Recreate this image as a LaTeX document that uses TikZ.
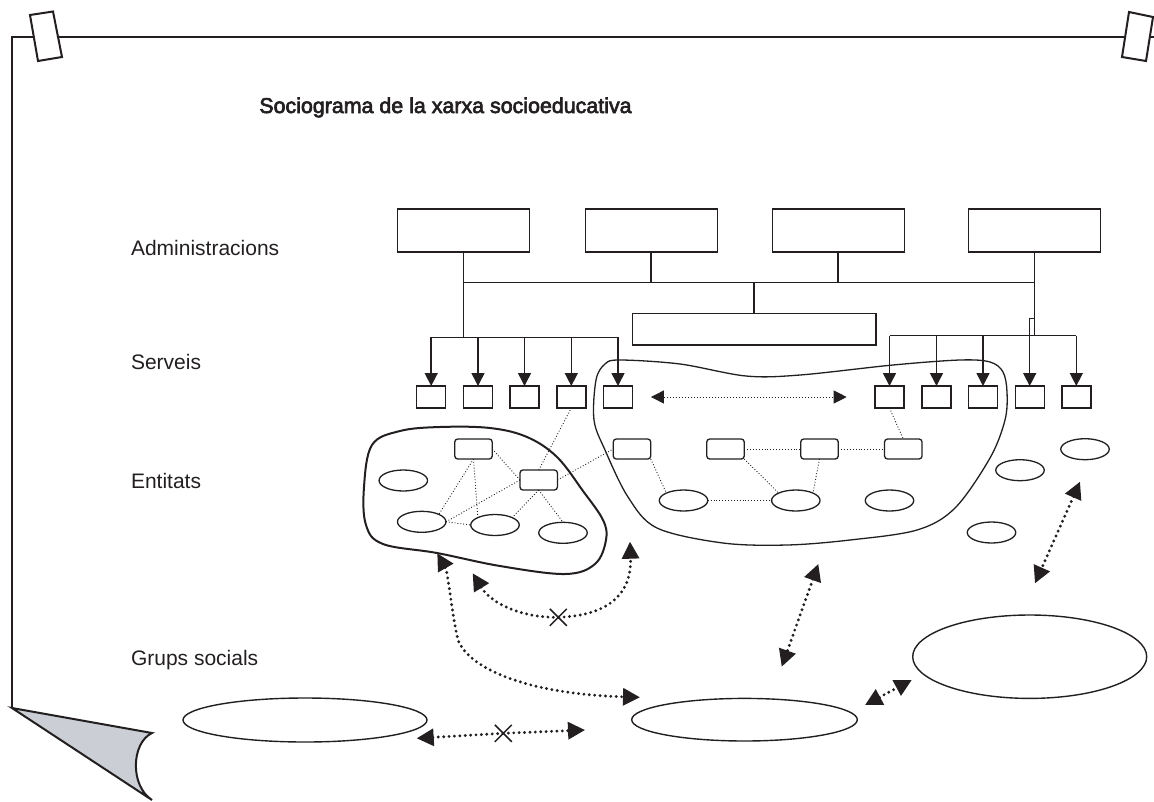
\documentclass[tikz,border=0pt]{standalone}
\usepackage{fontspec}
\setmainfont{Liberation Sans}
\newfontfamily\titlefont[FakeBold=3]{Liberation Sans}
\usetikzlibrary{arrows.meta,shapes.geometric,shapes.misc}
\definecolor{ink}{RGB}{35,31,32}
\definecolor{curlgray}{RGB}{203,206,213}
\begin{document}
\begin{tikzpicture}[x=1pt,y=-1pt,color=ink,
  every node/.style={inner sep=0pt,outer sep=0pt},
  adminbox/.style={draw,line width=1.4pt,minimum width=132pt,minimum height=43pt},
  svcbox/.style={draw,line width=1.4pt,minimum width=29pt,minimum height=22pt},
  entbox/.style={draw,line width=1.3pt,rounded corners=3pt,minimum width=37.5pt,minimum height=20pt},
  entell/.style={draw,ellipse,line width=1.3pt,minimum width=48.5pt,minimum height=21pt},
  grpell/.style={draw,ellipse,line width=1.4pt},
  treeline/.style={line width=1.5pt},
  svcarrow/.style={line width=1.5pt,-{Triangle[length=13pt,width=13pt]}},
  rel/.style={line width=0.9pt,dotted},
  bigarrow/.style={line width=3.2pt,line cap=round,dash pattern=on 0pt off 5.4pt,
    {Triangle[length=17pt,width=17pt]}-{Triangle[length=17pt,width=17pt]}},
  nolink/.style={draw,cross out,line width=1.5pt,minimum size=17pt},
  rowlabel/.style={anchor=base west,font=\fontsize{21}{25}\selectfont},
  tape/.style={draw,fill=white,line width=2pt,line join=miter}
]
\useasboundingbox (0,0) rectangle (1154,801);

% sheet of paper with its curled corner
\draw[line width=2pt,line join=miter] (1154,37) -- (12,37) -- (12,708);
\draw[line width=2pt,line join=miter,fill=curlgray]
  (12,708) -- (152,733) .. controls (131,743) and (130,786) .. (152,800) -- cycle;
\draw[tape] (30,15) -- (53,11.5) -- (62,57) -- (38,61) -- cycle;
\draw[tape] (1129,12) -- (1153,17) -- (1146,61) -- (1122,57) -- cycle;

% title and row labels
\node[anchor=base,font=\titlefont\fontsize{21.4}{25}\selectfont] (title) at (445.5,113)
  {Sociograma de la xarxa socioeducativa};
\node[rowlabel] (ladm) at (131,255) {Administracions};
\node[rowlabel] (lsrv) at (131,369) {Serveis};
\node[rowlabel] (lent) at (131,488) {Entitats};
\node[rowlabel] (lgrp) at (131,665) {Grups socials};

% administrations
\node[adminbox] (a1) at (463.7,230.5) {};
\node[adminbox] (a2) at (651.2,230.5) {};
\node[adminbox] (a3) at (838.2,230.5) {};
\node[adminbox] (a4) at (1034.5,230.5) {};
\node[draw,line width=1.4pt,minimum width=243.7pt,minimum height=31.7pt] (ctr) at (754.2,329.2) {};

% services
\foreach \i/\x in {1/431.2,2/478,3/524.5,4/571.3,5/618,6/889.5,7/936.5,8/983,9/1029.7,10/1076.3}
  \node[svcbox] (s\i) at (\x,397) {};

% tree of links
\coordinate (hbar) at (0,282.3);
\coordinate (lbar) at (0,337.3);
\coordinate (rbar) at (0,335.7);
\coordinate (notch) at (0,318.3);
\draw[treeline] (a1.south) -- (a1.south |- lbar);
\draw[treeline] (a1.south |- hbar) -- (a4.south |- hbar);
\draw[treeline] (a2.south) -- (a2.south |- hbar);
\draw[treeline] (a3.south) -- (a3.south |- hbar);
\draw[treeline] (a4.south) -- (a4.south |- rbar);
\draw[treeline] (ctr.north |- hbar) -- (ctr.north);
\draw[treeline] (s1.north |- lbar) -- (s5.north |- lbar);
\draw[treeline] (s6.north |- rbar) -- (s10.north |- rbar);
\foreach \i in {1,...,5} \draw[svcarrow] (s\i.north |- lbar) -- (s\i.north);
\foreach \i in {6,7,8,10} \draw[svcarrow] (s\i.north |- rbar) -- (s\i.north);
\draw[svcarrow] (a4.south |- notch) -| (s9.north);

\draw[line width=1pt,dotted,{Triangle[length=13pt,width=13pt]}-{Triangle[length=13pt,width=13pt]}]
  ([xshift=18.4pt]s5.east) -- ([xshift=-28.3pt]s6.west);

% groups of entities
\draw[line width=2pt] plot[smooth cycle,tension=0.6] coordinates {
  (364,487) (372,445) (400,431) (440,427) (490,428) (527,437) (557,457) (583,491)
  (603,520) (606,540) (595,564) (565,574) (500,566) (437,553) (383,544) (366,525)};
\draw[line width=1.3pt] plot[smooth cycle,tension=0.55] coordinates {
  (594,420) (596,380) (605,364) (620,360) (680,364) (746,376) (800,375) (893,365)
  (960,360) (990,362) (1003,372) (1007,392) (1005,420) (990,458) (955,508) (917,530)
  (850,540) (787,545) (723,543) (657,528) (628,497) (605,450)};

% entities
\node[entbox] (e1) at (473.5,449) {};
\node[entbox] (e2) at (538.7,480) {};
\node[entbox] (e3) at (632,449) {};
\node[entbox] (e4) at (725.5,449) {};
\node[entbox] (e5) at (819.5,449) {};
\node[entbox] (e6) at (903.3,449) {};
\node[entell] (el1) at (403.3,480.5) {};
\node[entell] (el2) at (421.7,521.8) {};
\node[entell] (el3) at (495,525) {};
\node[entell] (el4) at (563,532.8) {};
\node[entell] (el5) at (683.5,500.5) {};
\node[entell] (el6) at (795.8,500.5) {};
\node[entell] (el7) at (889.5,500.5) {};
\node[entell] (el8) at (1020,470.2) {};
\node[entell] (el9) at (1085,449.2) {};
\node[entell] (el10) at (991.5,532.5) {};

% relations between entities
\draw[rel] (e1.south) -- (el2.north east);
\draw[rel] (e1.south) -- (el3.north west);
\draw[rel] (e1.east) -- (e2.west);
\draw[rel] (e2.west) -- (el2.east);
\draw[rel] (el2.east) -- (el3.west);
\draw[rel] (e2.south) -- (el3.north east);
\draw[rel] (e2.south) -- (el4.north);
\draw[rel] (e2.north) -- (s4.south);
\draw[rel] (e2.east) -- (e3.west);
\draw[rel] (e3.south east) -- (el5.north west);
\draw[rel] (e4.east) -- (e5.west);
\draw[rel] (e4.south east) -- (el6.north west);
\draw[rel] (e5.south) -- (el6.north east);
\draw[rel] (e5.east) -- (e6.west);
\draw[rel] (el5.east) -- (el6.west);
\draw[rel] (s6.south) -- (e6.north);

% social groups
\node[grpell,minimum width=244pt,minimum height=44pt] (g1) at (305,720) {};
\node[grpell,minimum width=225.6pt,minimum height=42.6pt] (g2) at (744.5,719.7) {};
\node[grpell,minimum width=234pt,minimum height=83.4pt] (g3) at (1029.7,656.7) {};

% relations between groups and entities
\coordinate (pA1) at (416.7,738.3);
\coordinate (pA2) at (585,730);
\node[nolink] (x1) at (503.3,733.3) {};
\draw[bigarrow] (pA1) -- (x1.center) -- (pA2);

\coordinate (pB1) at (437.3,553.3);
\coordinate (pB2) at (640,697.3);
\draw[bigarrow] (pB1) .. controls (448,572) and (452,615) .. (458,640)
  .. controls (470,670) and (530,694) .. (pB2);

\coordinate (pC1) at (472.7,573.3);
\coordinate (pC2) at (630,541.7);
\node[nolink] (x2) at (558.3,617.3) {};
\draw[bigarrow] (pC1) .. controls (492,605) and (525,618) .. (x2.center)
  .. controls (600,616) and (632,600) .. (pC2);

\coordinate (pD1) at (818.3,564);
\coordinate (pD2) at (781.7,666.7);
\draw[bigarrow] (pD1) -- (pD2);

\coordinate (pE1) at (865,705);
\coordinate (pE2) at (911.7,680);
\draw[bigarrow] (pE1) -- (pE2);

\coordinate (pF1) at (1080,481.7);
\coordinate (pF2) at (1035,583.3);
\draw[bigarrow] (pF1) -- (pF2);
\end{tikzpicture}
\end{document}
